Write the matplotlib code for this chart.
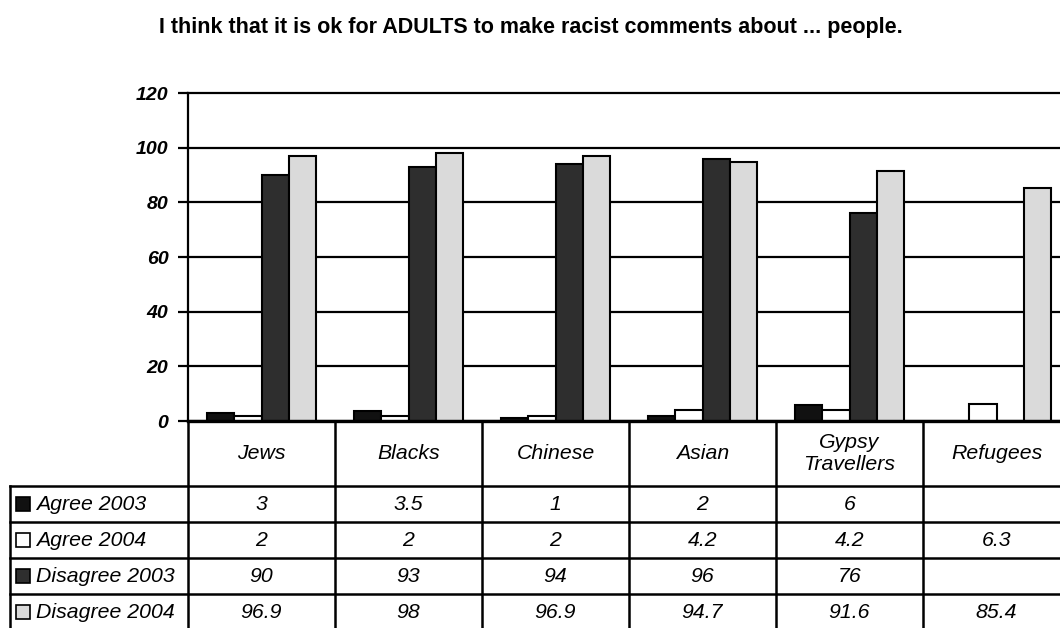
import numpy as np
import matplotlib
matplotlib.use("Agg")
import matplotlib.pyplot as plt
from matplotlib.patches import Rectangle

plt.rcParams['font.family'] = ['Liberation Sans', 'DejaVu Sans']

title = "I think that it is ok for ADULTS to make racist comments about ... people."
categories = ["Jews", "Blacks", "Chinese", "Asian", "Gypsy\nTravellers", "Refugees"]
series_names = ["Agree 2003", "Agree 2004", "Disagree 2003", "Disagree 2004"]
agree_2003 = [3, 3.5, 1, 2, 6, None]
agree_2004 = [2, 2, 2, 4.2, 4.2, 6.3]
disagree_2003 = [90, 93, 94, 96, 76, None]
disagree_2004 = [96.9, 98, 96.9, 94.7, 91.6, 85.4]
series = [agree_2003, agree_2004, disagree_2003, disagree_2004]
colors = ["#111111", "#ffffff", "#2e2e2e", "#dadada"]
yticks = [0, 20, 40, 60, 80, 100, 120]

W, H = 1060, 628
fig = plt.figure(figsize=(W / 100, H / 100), dpi=100)
# axes spans pixel x 188..1070, y 93..421
ax = fig.add_axes([188 / W, 1 - 421 / H, (1070 - 188) / W, (421 - 93) / H])

n = len(categories)
x = np.arange(n)
bw = 0.184
for i, (vals, c) in enumerate(zip(series, colors)):
    v = np.array([np.nan if a is None else a for a in vals], dtype=float)
    ax.bar(x + (i - 1.5) * bw, v, bw, color=c, edgecolor="black", linewidth=1.5,
           zorder=3)

ax.set_xlim(-0.5, n - 0.5)
ax.set_ylim(0, 120)
ax.set_yticks(yticks)
ax.set_yticklabels([str(t) for t in yticks], fontsize=14, fontweight="bold",
                   fontstyle="italic")
ax.yaxis.grid(True, color="black", linewidth=1.6)
for gl in ax.get_ygridlines():
    gl.set_clip_on(False)
ax.set_axisbelow(True)
ax.tick_params(axis="y", length=7, width=1.6, pad=7)
ax.set_xticks([])
for s in ["top", "right"]:
    ax.spines[s].set_visible(False)
ax.spines["left"].set_linewidth(1.6)
ax.spines["bottom"].set_linewidth(2.4)
ax.spines["bottom"].set_zorder(4)

fig.text(531 / W, 1 - 27 / H, title, ha="center", va="center", fontsize=15.5,
         fontweight="bold")

# data table below the axes, drawn in pixel coordinates of the figure
def px(xp, yp):
    return xp / W, 1 - yp / H

lw = 1.8
col_edges = [188 + 147 * k for k in range(n + 1)]
row_edges = [421, 486, 522, 558, 594, 630]
left_edge = 10

def line(x0, y0, x1, y1):
    (a, b), (c, d) = px(x0, y0), px(x1, y1)
    fig.add_artist(plt.Line2D([a, c], [b, d], color="black", linewidth=lw,
                              transform=fig.transFigure))

for xe in col_edges:
    line(xe, row_edges[0], xe, row_edges[-1])
line(left_edge, row_edges[1], left_edge, row_edges[-1])
for ye in row_edges[1:]:
    line(left_edge, ye, col_edges[-1], ye)

fs = 15.3
for k, cat in enumerate(categories):
    cx = (col_edges[k] + col_edges[k + 1]) / 2
    cy = (row_edges[0] + row_edges[1]) / 2
    fig.text(*px(cx, cy), cat, ha="center", va="center", fontsize=fs,
             fontstyle="italic", linespacing=1.15)

for r, (name, vals, c) in enumerate(zip(series_names, series, colors)):
    cy = (row_edges[r + 1] + row_edges[r + 2]) / 2
    sx, sy = px(16, cy + 7)
    fig.add_artist(Rectangle((sx, sy), 14 / W, 14 / H, facecolor=c,
                             edgecolor="black", linewidth=1.2,
                             transform=fig.transFigure))
    fig.text(*px(36, cy), name, ha="left", va="center", fontsize=fs,
             fontstyle="italic")
    for k, v in enumerate(vals):
        if v is None:
            continue
        cx = (col_edges[k] + col_edges[k + 1]) / 2
        fig.text(*px(cx, cy), f"{v:g}", ha="center", va="center",
                 fontsize=fs, fontstyle="italic")

fig.savefig("out.png", dpi=100)
